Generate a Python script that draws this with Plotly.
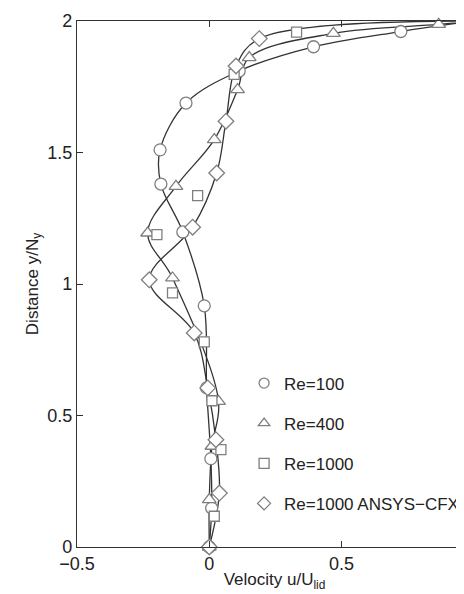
import plotly.graph_objects as go

# Re=100 (circles)
re100_u = [0.0, 0.009, 0.006, -0.010, -0.019, -0.100, -0.183, -0.186, -0.088, 0.113, 0.394, 0.724, 1.0]
re100_y = [0.0, 0.148, 0.336, 0.605, 0.917, 1.198, 1.380, 1.510, 1.688, 1.810, 1.902, 1.960, 2.0]

# Re=400 (triangles)
re400_u = [0.0, 0.000, 0.010, 0.035, -0.139, -0.233, -0.126, 0.019, 0.107, 0.151, 0.469, 0.867, 1.0]
re400_y = [0.0, 0.180, 0.383, 0.554, 1.023, 1.194, 1.371, 1.549, 1.739, 1.861, 1.953, 1.987, 2.0]

# Re=1000 (squares, markers only)
re1000_u = [0.019, 0.044, 0.010, -0.019, -0.139, -0.198, -0.044, 0.094, 0.330]
re1000_y = [0.117, 0.370, 0.556, 0.780, 0.966, 1.188, 1.336, 1.797, 1.958]

# Re=1000 ANSYS-CFX (diamonds)
cfx_u = [0.0, 0.038, 0.025, -0.006, -0.057, -0.227, -0.063, 0.028, 0.063, 0.101, 0.189, 1.0]
cfx_y = [0.0, 0.205, 0.408, 0.605, 0.814, 1.016, 1.216, 1.422, 1.619, 1.829, 1.933, 2.0]

names = ["Re=100", "Re=400", "Re=1000", "Re=1000 ANSYS\u2212CFX"]
symbols = ["circle", "triangle-up", "square", "diamond"]

x_ticks = [-0.5, 0, 0.5]
x_ticktext = ["\u22120.5", "0", "0.5"]
y_ticks = [0, 0.5, 1, 1.5, 2]
y_ticktext = ["0", "0.5", "1", "1.5", "2"]

LINE_C = "#333333"
MK_C = "#7f7f7f"
FONT = "Liberation Sans, Arial, Helvetica, sans-serif"

fig = go.Figure()

# curves first
for u, y in [(re100_u, re100_y), (re400_u, re400_y), (cfx_u, cfx_y)]:
    fig.add_trace(go.Scatter(x=u, y=y, mode="lines",
                             line=dict(color=LINE_C, width=1.3, shape="spline", smoothing=1.0),
                             showlegend=False, hoverinfo="skip"))

# markers
series = [(re100_u, re100_y), (re400_u, re400_y), (re1000_u, re1000_y), (cfx_u, cfx_y)]
sizes = [12, 12, 10, 12]
for (u, y), sym, sz in zip(series, symbols, sizes):
    fig.add_trace(go.Scatter(x=u, y=y, mode="markers",
                             marker=dict(symbol=sym, size=sz, color="white",
                                         line=dict(color=MK_C, width=1.3)),
                             showlegend=False, cliponaxis=False))

# legend entries
for i, (nm, sym) in enumerate(zip(names, symbols)):
    fig.add_trace(go.Scatter(x=[None], y=[None], mode="markers", name=nm,
                             legendgroup=str(i),
                             marker=dict(symbol=sym, size=10, color="white",
                                         line=dict(color=MK_C, width=1.3))))

# right-side ticks (no line)
fig.add_trace(go.Scatter(x=[None], y=[None], yaxis="y2", showlegend=False))

fig.update_layout(
    width=464, height=594,
    margin=dict(l=69, r=0, t=13, b=55, autoexpand=False),
    paper_bgcolor="white", plot_bgcolor="white",
    font=dict(family=FONT, size=18, color="#222222"),
    xaxis=dict(range=[-0.5, 0.993], tickvals=x_ticks, ticktext=x_ticktext,
               ticks="inside", ticklen=6, tickcolor="#333", showline=True, linecolor="#333",
               linewidth=1.3, mirror="ticks", showgrid=False, zeroline=False, automargin=False,
               tickfont=dict(size=18),
               title=dict(text="Velocity u/U<sub>lid</sub>", standoff=0, font=dict(size=17))),
    yaxis=dict(range=[0, 2], tickvals=y_ticks, ticktext=y_ticktext,
               ticks="inside", ticklen=6, tickcolor="#333", showline=True, linecolor="#333",
               linewidth=1.3, mirror=False, showgrid=False, zeroline=False, automargin=False,
               tickfont=dict(size=18),
               title=dict(text="Distance y/N<sub>y</sub>", standoff=4, font=dict(size=17))),
    yaxis2=dict(range=[0, 2], overlaying="y", side="right", tickvals=y_ticks,
                ticks="inside", ticklen=6, tickcolor="#333", showticklabels=False,
                showline=False, showgrid=False, zeroline=False, automargin=False),
    legend=dict(x=0.423, y=0.345, xanchor="left", yanchor="top", bgcolor="rgba(0,0,0,0)",
                tracegroupgap=15, font=dict(size=17), itemsizing="trace"),
    showlegend=True,
    annotations=[dict(text="1", xref="paper", yref="paper", x=1.0047, y=0, yshift=-19,
                      xanchor="center", yanchor="middle", showarrow=False, font=dict(size=18))],
)

fig.write_html("out.html")
